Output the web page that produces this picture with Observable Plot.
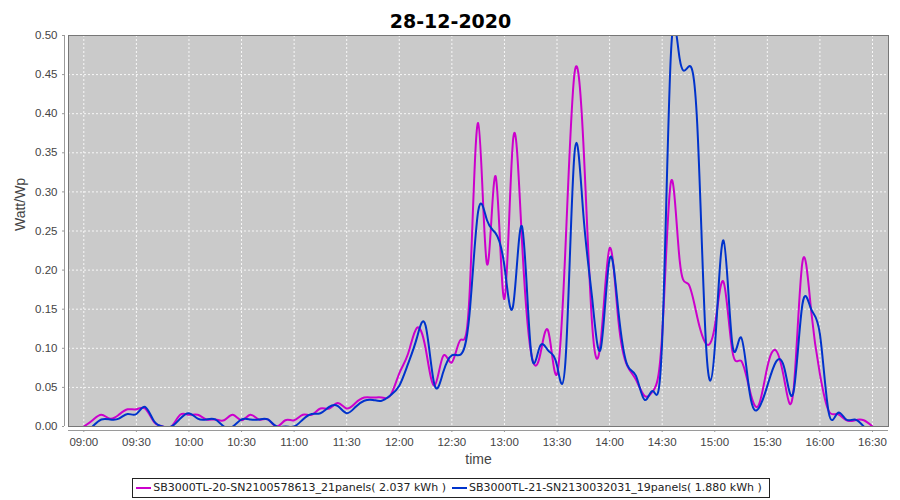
<!DOCTYPE html>
<html><head><meta charset="utf-8">
<script src="https://cdn.jsdelivr.net/npm/d3@7"></script>
<script src="https://cdn.jsdelivr.net/npm/@observablehq/plot@0.6"></script>
<style>
body{margin:0;background:#fff;width:900px;height:500px;overflow:hidden;font-family:"DejaVu Sans",sans-serif}
#chart svg{display:block}
#legendWrap{position:absolute;left:0;top:478px;width:902px;display:flex;justify-content:center}
#legend{display:flex;align-items:center;border:1px solid #222;background:#fff;height:18px;padding:0 4px 0 3px;font-family:"DejaVu Sans",sans-serif;font-size:11px;color:#222;gap:3px;line-height:18px}
.sw{display:inline-block;width:15px;height:2px;margin-right:2px}
.item{display:inline-flex;align-items:center;margin-right:3px}
</style></head><body>
<div id="chart"></div>
<div id="legendWrap"><div id="legend"></div></div>
<script>
const chartTitle = "28-12-2020";
const xLabel = "time";
const yLabel = "Watt/Wp";
const seriesNames = [
  "SB3000TL-20-SN2100578613_21panels( 2.037 kWh )",
  "SB3000TL-21-SN2130032031_19panels( 1.880 kWh )"
];
const seriesColors = ["#cc00cc", "#0033cc"];
const times = [
  "09:00","09:05","09:10","09:15","09:20","09:25","09:30","09:35","09:40","09:45","09:50","09:55",
  "10:00","10:05","10:10","10:15","10:20","10:25","10:30","10:35","10:40","10:45","10:50","10:55",
  "11:00","11:05","11:10","11:15","11:20","11:25","11:30","11:35","11:40","11:45","11:50","11:55",
  "12:00","12:05","12:10","12:15","12:20","12:25","12:30","12:35","12:40","12:45","12:50","12:55",
  "13:00","13:05","13:10","13:15","13:20","13:25","13:30","13:35","13:40","13:45","13:50","13:55",
  "14:00","14:05","14:10","14:15","14:20","14:25","14:30","14:35","14:40","14:45","14:50","14:55",
  "15:00","15:05","15:10","15:15","15:20","15:25","15:30","15:35","15:40","15:45","15:50","15:55",
  "16:00","16:05","16:10","16:15","16:20","16:25","16:30"
];
const sb20 = [
  0,0.008,0.015,0.010,0.015,0.022,0.022,0.023,0.006,0,0,0.015,
  0.015,0.015,0.009,0.009,0.008,0.015,0.008,0.015,0.009,0.009,0,0.008,
  0.008,0.015,0.015,0.023,0.023,0.030,0.023,0.030,0.037,0.037,0.037,0.040,
  0.068,0.093,0.126,0.100,0.052,0.090,0.082,0.111,0.165,0.388,0.208,0.320,
  0.163,0.368,0.238,0.097,0.088,0.122,0.067,0.238,0.452,0.364,0.132,0.110,
  0.228,0.136,0.078,0.060,0.039,0.046,0.118,0.313,0.212,0.182,0.140,0.106,
  0.128,0.185,0.097,0.084,0.046,0.027,0.076,0.097,0.056,0.048,0.210,0.148,
  0.067,0.020,0.016,0.008,0.008,0.008,0
];
const sb21 = [
  null,0,0.009,0.009,0.010,0.016,0.016,0.025,0.007,0,0,0.010,
  0.017,0.010,0.009,0.009,0,0,0.009,0.009,0.009,0.009,0,0,
  0,0.009,0.016,0.017,0.025,0.026,0.017,0.025,0.033,0.034,0.033,0.040,
  0.052,0.080,0.113,0.129,0.054,0.069,0.091,0.092,0.142,0.275,0.264,0.247,
  0.205,0.155,0.256,0.100,0.101,0.097,0.078,0.090,0.350,0.272,0.165,0.100,
  0.214,0.148,0.079,0.065,0.034,0.045,0.110,0.477,0.470,0.460,0.387,0.105,
  0.100,0.238,0.106,0.114,0.042,0.023,0.052,0.083,0.072,0.045,0.156,0.150,
  0.118,0.018,0.017,0.009,0.009,0,null
];
const xDomain = ["08:51:16", "16:39:08"];
const xTicks = ["09:00","09:30","10:00","10:30","11:00","11:30","12:00","12:30","13:00","13:30","14:00","14:30","15:00","15:30","16:00","16:30"];
const yTicks = [0,0.05,0.10,0.15,0.20,0.25,0.30,0.35,0.40,0.45,0.50];
const yDomain = [0, 0.5];

const pHM = d3.utcParse("%H:%M"), pHMS = d3.utcParse("%H:%M:%S");
const t = times.map(pHM);
const data20 = t.map((d, i) => ({time: d, value: sb20[i]}));
const data21 = t.map((d, i) => ({time: d, value: sb21[i]}));
const xt = xTicks.map(pHM);
const xd = xDomain.map(pHMS);

const gray = "#9a9a9a";
const plot = Plot.plot({
  width: 900, height: 475,
  marginLeft: 68, marginRight: 12, marginTop: 35, marginBottom: 49,
  style: {fontFamily: "'Liberation Sans', sans-serif", fontSize: "11.5px", color: "#444", background: "white", overflow: "visible"},
  x: {type: "utc", domain: xd, ticks: xt, tickFormat: d3.utcFormat("%H:%M"), tickSize: 0, tickPadding: 11, label: null},
  y: {domain: yDomain, ticks: yTicks, tickFormat: d3.format(".2f"), tickSize: 0, tickPadding: 11, label: null},
  marks: [
    Plot.frame({fill: "#cacaca"}),
    Plot.ruleY(yTicks, {stroke: "white", strokeDasharray: "2,2", strokeWidth: 1, strokeOpacity: 0.85}),
    Plot.ruleX(xt, {stroke: "white", strokeDasharray: "2,2", strokeWidth: 1, strokeOpacity: 0.85}),
    Plot.line(data20, {x: "time", y: "value", stroke: seriesColors[0], strokeWidth: 2, curve: "natural", clip: true}),
    Plot.line(data21, {x: "time", y: "value", stroke: seriesColors[1], strokeWidth: 2, curve: "natural", clip: true}),
    Plot.frame({stroke: "#777"}),
    Plot.ruleY([yDomain[0]], {dy: 4, stroke: gray}),
    Plot.ruleX(xt, {insetTop: 395, insetBottom: -6, stroke: gray}),
    Plot.ruleX([xd[0]], {dx: -4, stroke: gray}),
    Plot.ruleY(yTicks, {insetLeft: -6, insetRight: 824, stroke: gray}),
    Plot.text([xLabel], {frameAnchor: "bottom", dy: 37, fontSize: 14, fill: "#444"}),
    Plot.text([yLabel], {frameAnchor: "left", dx: -48, rotate: -90, fontSize: 14, fill: "#444"}),
    Plot.text([chartTitle], {frameAnchor: "top", dx: -28, dy: -21, fontSize: 19, fontWeight: "bold", fill: "#000", fontFamily: "'DejaVu Sans', sans-serif"})
  ]
});
document.getElementById("chart").appendChild(plot);

const legend = document.getElementById("legend");
seriesNames.forEach((n, i) => {
  const it = document.createElement("span");
  it.className = "item";
  const sw = document.createElement("span");
  sw.className = "sw";
  sw.style.background = seriesColors[i];
  it.appendChild(sw);
  it.appendChild(document.createTextNode(n));
  legend.appendChild(it);
});
</script></body></html>
